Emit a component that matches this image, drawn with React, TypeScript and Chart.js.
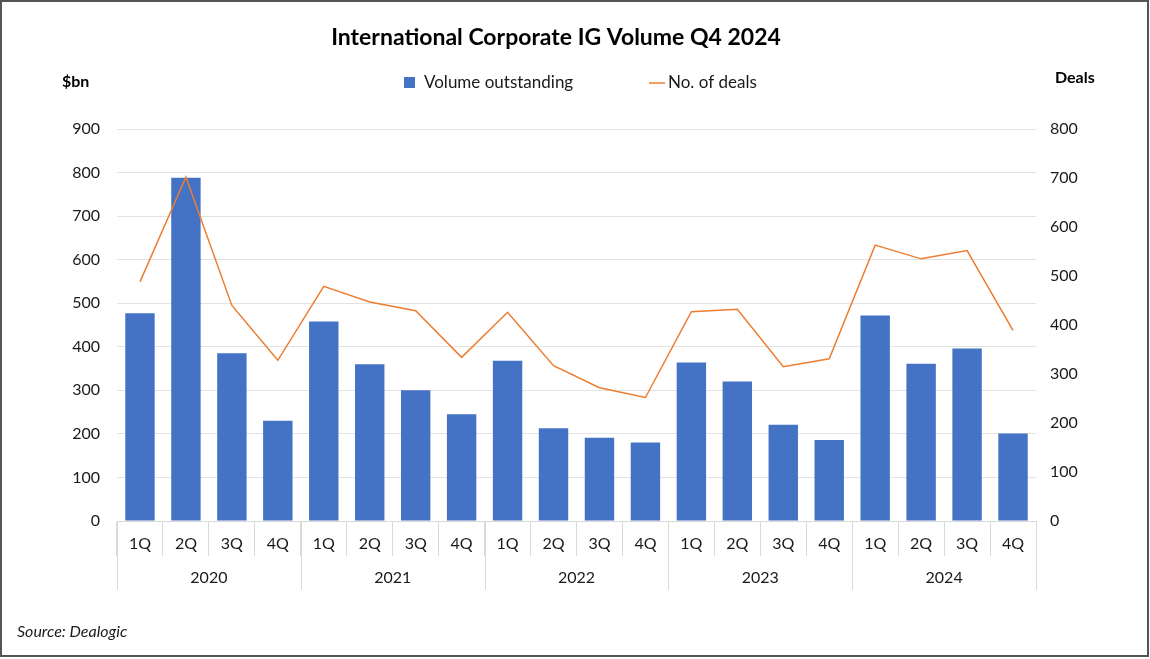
import React, { useEffect, useRef } from "react";
import { Chart, registerables } from "chart.js";

Chart.register(...registerables);

const quarters = ["1Q", "2Q", "3Q", "4Q", "1Q", "2Q", "3Q", "4Q", "1Q", "2Q", "3Q", "4Q", "1Q", "2Q", "3Q", "4Q", "1Q", "2Q", "3Q", "4Q"];
const years = ["2020", "2021", "2022", "2023", "2024"];
const volumeOutstanding = [477, 788, 385, 230, 458, 360, 300, 245, 368, 213, 191, 180, 364, 320, 221, 186, 472, 361, 396, 201];
const numberOfDeals = [488, 702, 440, 328, 479, 447, 429, 334, 426, 317, 272, 252, 427, 432, 315, 331, 563, 535, 552, 389];

const FONT = "Lato, 'Open Sans', sans-serif";

const decorPlugin = {
  id: "decor",
  afterDraw(chart: any) {
    const ctx = chart.ctx;
    const area = chart.chartArea;
    ctx.save();
    const n = quarters.length;
    const perYear = n / years.length;
    const catW = (area.right - area.left) / n;
    ctx.strokeStyle = "#d9d9d9";
    ctx.lineWidth = 1;
    for (let i = 0; i <= years.length; i++) {
      const px = Math.round(area.left + i * perYear * catW) + 0.5;
      ctx.beginPath();
      ctx.moveTo(px, area.bottom);
      ctx.lineTo(px, area.bottom + 69);
      ctx.stroke();
    }
    ctx.fillStyle = "#1a1a1a";
    ctx.font = `16px ${FONT}`;
    ctx.textAlign = "center";
    ctx.textBaseline = "middle";
    years.forEach((y, i) => {
      const cx = area.left + (i * perYear + perYear / 2) * catW;
      ctx.fillText(y, cx, area.bottom + 57);
    });
    // title
    ctx.font = `bold 23px ${FONT}`;
    ctx.fillStyle = "#000";
    ctx.fillText("International Corporate IG Volume Q4 2024", 556, 38);
    // axis unit labels
    ctx.font = `bold 16px ${FONT}`;
    ctx.textAlign = "left";
    ctx.fillText("$bn", 62, 82);
    ctx.fillText("Deals", 1055, 78);
    // legend
    ctx.fillStyle = "#4472C4";
    ctx.fillRect(404, 77, 11, 11);
    ctx.strokeStyle = "#ED7D31";
    ctx.lineWidth = 1.5;
    ctx.beginPath();
    ctx.moveTo(649, 83);
    ctx.lineTo(665, 83);
    ctx.stroke();
    ctx.font = `17px ${FONT}`;
    ctx.fillStyle = "#1a1a1a";
    ctx.fillText("Volume outstanding", 424, 83);
    ctx.fillText("No. of deals", 668, 83);
    // source
    ctx.font = `italic 16px ${FONT}`;
    ctx.fillText("Source: Dealogic", 17, 632);
    // frame
    ctx.strokeStyle = "#555";
    ctx.lineWidth = 2;
    ctx.strokeRect(1, 1, 1147, 655);
    ctx.restore();
  },
  beforeDraw(chart: any) {
    const ctx = chart.ctx;
    ctx.save();
    ctx.fillStyle = "#fff";
    ctx.fillRect(0, 0, chart.width, chart.height);
    ctx.restore();
  },
};

export default function App() {
  const ref = useRef<HTMLCanvasElement>(null);
  useEffect(() => {
    if (!ref.current) return;
    const chart = new Chart(ref.current, {
      type: "bar",
      data: {
        labels: quarters,
        datasets: [
          {
            type: "line",
            label: "No. of deals",
            data: numberOfDeals,
            yAxisID: "y1",
            borderColor: "#ED7D31",
            borderWidth: 1.5,
            pointRadius: 0,
            tension: 0,
            order: 0,
          } as any,
          {
            type: "bar",
            label: "Volume outstanding",
            data: volumeOutstanding,
            yAxisID: "y",
            backgroundColor: "#4472C4",
            barPercentage: 0.64,
            categoryPercentage: 1,
            order: 1,
          },
        ],
      },
      options: {
        responsive: false,
        animation: false,
        devicePixelRatio: 1,
        layout: { padding: { top: 129, left: 0, right: 0, bottom: 0 } },
        plugins: {
          legend: { display: false },
          title: { display: false },
          tooltip: { enabled: false },
        },
        scales: {
          x: {
            offset: true,
            grid: {
              display: true,
              drawOnChartArea: false,
              drawTicks: true,
              tickLength: 35,
              offset: true,
              color: "#d9d9d9",
            },
            border: { display: true, color: "#d9d9d9" },
            ticks: {
              color: "#1a1a1a",
              font: { family: FONT, size: 16 },
              padding: -22,
              maxRotation: 0,
              autoSkip: false,
            },
            afterFit(scale: any) {
              scale.height = 138;
            },
          },
          y: {
            position: "left",
            min: 0,
            max: 900,
            ticks: {
              stepSize: 100,
              color: "#1a1a1a",
              font: { family: FONT, size: 16 },
              padding: 17,
            },
            grid: { color: "#e3e3e3", drawTicks: false },
            border: { display: false },
            afterFit(scale: any) {
              scale.width = 117;
            },
          },
          y1: {
            position: "right",
            min: 0,
            max: 800,
            ticks: {
              stepSize: 100,
              color: "#1a1a1a",
              font: { family: FONT, size: 16 },
              padding: 14,
            },
            grid: { drawOnChartArea: false, drawTicks: false },
            border: { display: false },
            afterFit(scale: any) {
              scale.width = 114;
            },
          },
        },
      },
      plugins: [decorPlugin],
    });
    return () => chart.destroy();
  }, []);
  return (
    <div style={{ position: "absolute", left: 0, top: 0, width: 1150, height: 659 }}>
      <canvas ref={ref} width={1150} height={659} />
    </div>
  );
}
